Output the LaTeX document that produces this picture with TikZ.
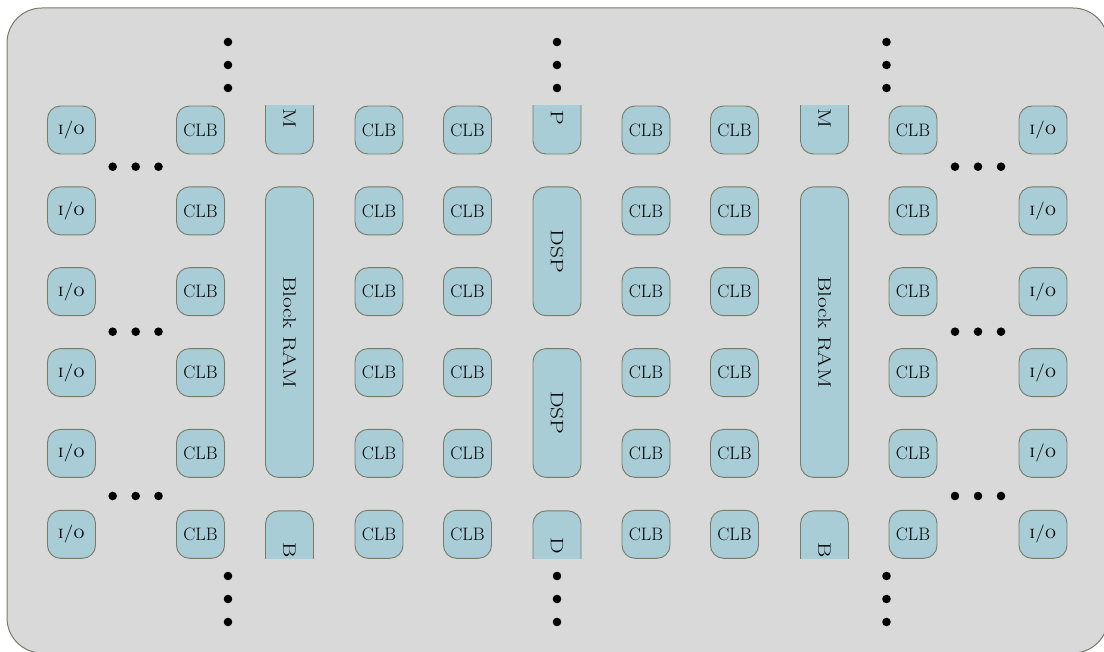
\documentclass[tikz,border=0pt]{standalone}
\definecolor{bgfill}{RGB}{217,217,217}
\definecolor{cellfill}{RGB}{168,205,214}
\definecolor{edgecol}{RGB}{122,122,104}
\begin{document}
\begin{tikzpicture}[x=1pt,y=-1pt,
  cellbox/.style={draw=edgecol, fill=cellfill, line width=0.9pt, rounded corners=13pt,
    minimum width=48pt, minimum height=48pt, inner sep=0pt, font=\fontsize{18}{20}\selectfont},
  tallbox/.style={draw=edgecol, fill=cellfill, line width=0.9pt, rounded corners=13pt,
    rotate=-90, minimum height=48pt, inner sep=0pt, font=\fontsize{18}{20}\selectfont},
  stubtext/.style={rotate=-90, inner sep=0pt, font=\fontsize{18}{20}\selectfont},
  dotnode/.style={circle, fill=black, inner sep=0pt, minimum size=8.6pt}]
\useasboundingbox (0,0) rectangle (1104,652);
\draw[draw=edgecol, fill=bgfill, line width=1pt, rounded corners=35pt] (7,8) rectangle (1108,653);

% I/O and CLB cells
\foreach \r/\y in {1/130,2/210.9,3/291.7,4/372.6,5/453.4,6/534.3}{
  \node[cellbox] (ioL\r) at (71.5,\y) {\textsc{i/o}};
  \node[cellbox] (ioR\r) at (1043,\y) {\textsc{i/o}};
  \foreach \c/\x in {1/200.5,2/379,3/467.5,4/646,5/734.5,6/913}{
    \node[cellbox] (clb\r-\c) at (\x,\y) {CLB};
  }
}

% tall blocks
\node[tallbox, minimum width=290.5pt] (bram1) at (289.5,332.15) {\scalebox{1.3}[1]{Block RAM}};
\node[tallbox, minimum width=290.5pt] (bram2) at (824.5,332.15) {\scalebox{1.3}[1]{Block RAM}};
\node[tallbox, minimum width=128.8pt] (dsp1) at (557,251.3) {\scalebox{1.3}[1]{DSP}};
\node[tallbox, minimum width=128.8pt] (dsp2) at (557,413) {\scalebox{1.3}[1]{DSP}};

% clipped stubs at top and bottom
\begin{scope}
  \clip (0,106) rectangle (1104,558.3);
  \node[tallbox, minimum width=120pt] (bramtop1) at (289.5,94) {};
  \node[tallbox, minimum width=120pt] (bramtop2) at (824.5,94) {};
  \node[tallbox, minimum width=120pt] (dsptop) at (557,94) {};
  \node[tallbox, minimum width=120pt] (brambot1) at (289.5,570.9) {};
  \node[tallbox, minimum width=120pt] (brambot2) at (824.5,570.9) {};
  \node[tallbox, minimum width=120pt] (dspbot) at (557,570.9) {};
  \node[stubtext, anchor=east] (tbram1) at (289.5,129) {\scalebox{1.3}[1]{M}};
  \node[stubtext, anchor=east] (tbram2) at (824.5,129) {\scalebox{1.3}[1]{M}};
  \node[stubtext, anchor=east] (tdsp) at (557,125) {\scalebox{1.3}[1]{P}};
  \node[stubtext, anchor=west] (bbram1) at (289.5,542) {\scalebox{1.3}[1]{B}};
  \node[stubtext, anchor=west] (bbram2) at (824.5,542) {\scalebox{1.3}[1]{B}};
  \node[stubtext, anchor=west] (bdsp) at (557,537) {\scalebox{1.3}[1]{D}};
\end{scope}

% vertical dots
\foreach \k/\x in {1/228,2/557,3/886.5}{
  \foreach \j/\y in {1/42,2/65,3/88}{
    \node[dotnode] (vt\k-\j) at (\x,\y) {};
  }
  \foreach \j/\y in {1/576,2/599,3/622}{
    \node[dotnode] (vb\k-\j) at (\x,\y) {};
  }
}
% horizontal dots
\foreach \k/\y in {1/166.7,2/331.7,3/496}{
  \foreach \j/\x in {1/112.7,2/135.7,3/158.5}{
    \node[dotnode] (hl\k-\j) at (\x,\y) {};
  }
  \foreach \j/\x in {1/955,2/978,3/1001}{
    \node[dotnode] (hr\k-\j) at (\x,\y) {};
  }
}
\end{tikzpicture}
\end{document}
